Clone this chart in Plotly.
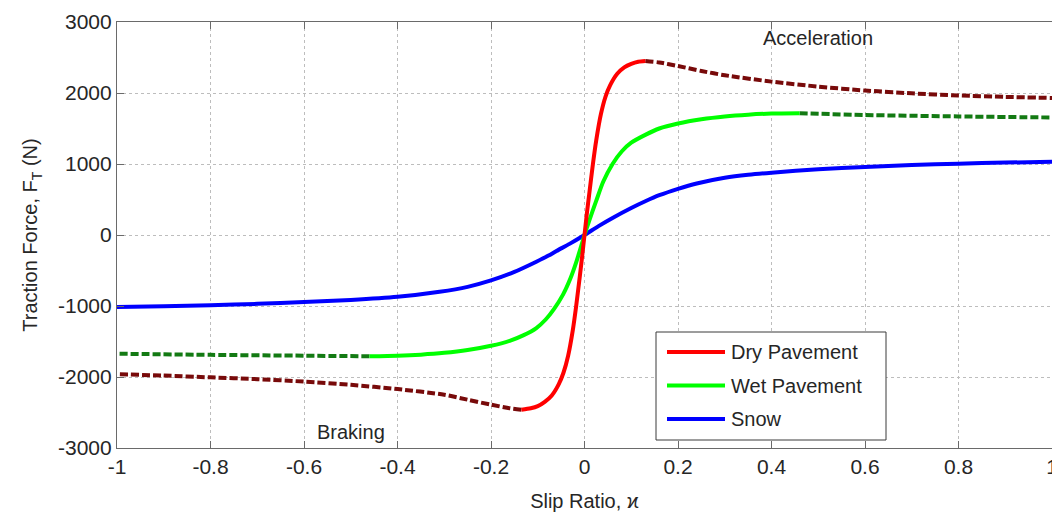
import plotly.graph_objects as go

# ---------------- data ----------------
# Dry pavement: solid (stable) part around the origin
dry_solid_x = [-0.135, -0.115, -0.1, -0.085, -0.07, -0.055, -0.045, -0.035, -0.025, -0.018, -0.01, -0.005,
               0.0, 0.005, 0.01, 0.018, 0.025, 0.035, 0.045, 0.055, 0.07, 0.085, 0.1, 0.115, 0.13]
dry_solid_f = [-2460, -2440, -2410, -2350, -2260, -2100, -1940, -1700, -1340, -1010, -580, -300,
               0, 300, 570, 1000, 1330, 1700, 1950, 2110, 2270, 2360, 2410, 2440, 2450]
# Dry pavement: dashed (unstable) parts
dry_dash_pos_x = [0.13, 0.16, 0.2, 0.25, 0.3, 0.4, 0.5, 0.6, 0.7, 0.8, 0.9, 1.0]
dry_dash_pos_f = [2450, 2430, 2380, 2310, 2250, 2160, 2090, 2035, 1995, 1965, 1945, 1930]
dry_dash_neg_x = [-0.135, -0.16, -0.2, -0.25, -0.3, -0.4, -0.5, -0.6, -0.7, -0.8, -0.9, -1.0]
dry_dash_neg_f = [-2460, -2440, -2390, -2320, -2250, -2170, -2110, -2065, -2030, -2005, -1980, -1960]

# Wet pavement
wet_solid_x = [-0.46, -0.4, -0.35, -0.3, -0.25, -0.2, -0.16, -0.13, -0.103, -0.083, -0.065, -0.046, -0.03, -0.018, -0.01,
               0.0, 0.01, 0.025, 0.04, 0.06, 0.08, 0.1, 0.13, 0.16, 0.2, 0.25, 0.3, 0.35, 0.4, 0.46]
wet_solid_f = [-1708, -1700, -1685, -1660, -1620, -1560, -1490, -1410, -1310, -1190, -1040, -840, -610, -390, -220,
               0, 200, 480, 750, 1000, 1180, 1300, 1410, 1500, 1570, 1630, 1670, 1695, 1710, 1715]
wet_dash_pos_x = [0.46, 0.6, 0.8, 1.0]
wet_dash_pos_f = [1715, 1690, 1670, 1655]
wet_dash_neg_x = [-0.46, -0.6, -0.8, -1.0]
wet_dash_neg_f = [-1708, -1700, -1688, -1672]

# Snow
snow_x = [-1.0, -0.9, -0.8, -0.7, -0.6, -0.5, -0.4, -0.31, -0.25, -0.2, -0.15, -0.103, -0.077, -0.06, -0.032,
          0.0, 0.03, 0.06, 0.1, 0.13, 0.16, 0.2, 0.24, 0.3, 0.35, 0.4, 0.5, 0.6, 0.7, 0.8, 0.9, 1.0]
snow_f = [-1014, -1003, -990, -970, -945, -915, -871, -800, -730, -640, -520, -376, -290, -225, -125,
          0, 125, 240, 380, 475, 560, 650, 725, 805, 848, 878, 925, 958, 985, 1005, 1020, 1032]

legend_labels = ["Dry Pavement", "Wet Pavement", "Snow"]
x_ticks = [-1, -0.8, -0.6, -0.4, -0.2, 0, 0.2, 0.4, 0.6, 0.8, 1]
x_tick_text = ["-1", "-0.8", "-0.6", "-0.4", "-0.2", "0", "0.2", "0.4", "0.6", "0.8", "1"]
y_ticks = [-3000, -2000, -1000, 0, 1000, 2000, 3000]
y_tick_text = ["-3000", "-2000", "-1000", "0", "1000", "2000", "3000"]

# ---------------- styling ----------------
RED, GREEN, BLUE = "#ff0000", "#00ff00", "#0000ff"
DRED, DGREEN = "#780a0a", "#137a13"
LW = 4
DASH = "8px,3px"
FONT = "Liberation Sans, Arial, Helvetica, sans-serif"
TXT = "#262626"
FS = 21

W, H = 1052, 515
ML, MR, MT, MB = 117, 0, 22, 67
PW, PH = W - ML - MR, H - MT - MB

fig = go.Figure()


def add(x, y, color, dash=None):
    fig.add_trace(go.Scatter(x=x, y=y, mode="lines", showlegend=False, hoverinfo="skip",
                             line=dict(color=color, width=LW, dash=dash, shape="spline", smoothing=0.7)))


# dashed unstable branches first, then solid
add(dry_dash_pos_x, dry_dash_pos_f, DRED, DASH)
add(dry_dash_neg_x, dry_dash_neg_f, DRED, DASH)
add(wet_dash_pos_x, wet_dash_pos_f, DGREEN, DASH)
add(wet_dash_neg_x, wet_dash_neg_f, DGREEN, DASH)
add(snow_x, snow_f, BLUE)
add(wet_solid_x, wet_solid_f, GREEN)
add(dry_solid_x, dry_solid_f, RED)

# ---------------- hand-drawn legend box (paper coords from pixels) ----------------
def px(xp):
    return (xp - ML) / PW


def py(yp):
    return (H - MB - yp) / PH


shapes = [dict(type="rect", xref="paper", yref="paper",
               x0=px(656), x1=px(886), y0=py(440), y1=py(332),
               line=dict(color="#3a3a3a", width=1), fillcolor="white", layer="above")]
annotations = []
rows_y = [352, 385.5, 419]
for lab, col, ry in zip(legend_labels, [RED, GREEN, BLUE], rows_y):
    shapes.append(dict(type="line", xref="paper", yref="paper",
                       x0=px(667), x1=px(725), y0=py(ry), y1=py(ry),
                       line=dict(color=col, width=LW), layer="above"))
    annotations.append(dict(xref="paper", yref="paper", x=px(729), y=py(ry),
                            text=lab, showarrow=False, xanchor="left", yanchor="middle",
                            font=dict(family=FONT, size=FS - 1, color=TXT)))

annotations.append(dict(x=0.5, y=2775, xref="x", yref="y", text="Acceleration", showarrow=False,
                        font=dict(family=FONT, size=FS - 1, color=TXT)))
annotations.append(dict(x=-0.5, y=-2775, xref="x", yref="y", text="Braking", showarrow=False,
                        font=dict(family=FONT, size=FS - 1, color=TXT)))

axis_common = dict(showline=True, linecolor="#6a6a6a", linewidth=1.2,
                   ticks="inside", ticklen=7, tickcolor="#6a6a6a", tickwidth=1,
                   showgrid=True, gridcolor="#bdbdbd", griddash="dot", gridwidth=1,
                   zeroline=False, automargin=False,
                   tickfont=dict(family=FONT, size=FS, color=TXT))

fig.update_layout(
    width=W, height=H,
    margin=dict(l=ML, r=MR, t=MT, b=MB),
    paper_bgcolor="white", plot_bgcolor="white",
    shapes=shapes, annotations=annotations,
    xaxis=dict(range=[-1, 1], tickvals=x_ticks, ticktext=x_tick_text, mirror="ticks",
               ticklabeloverflow="allow",
               title=dict(text="Slip Ratio, ϰ", standoff=16,
                          font=dict(family=FONT, size=FS - 1, color=TXT)),
               **axis_common),
    yaxis=dict(range=[-3000, 3000], tickvals=y_ticks, ticktext=y_tick_text, mirror=False,
               title=dict(text="Traction Force, F<sub>T</sub> (N)", standoff=14,
                          font=dict(family=FONT, size=FS - 1, color=TXT)),
               **axis_common),
)

fig.write_html("out.html")
